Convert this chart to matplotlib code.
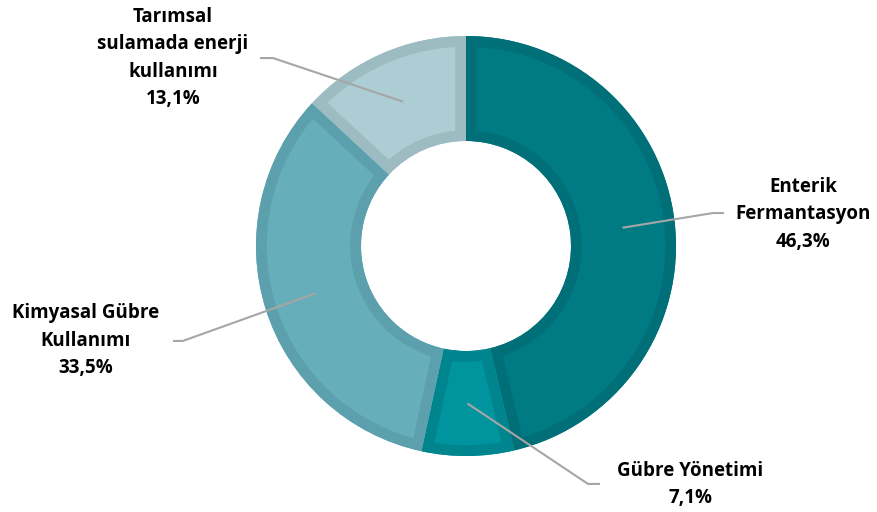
import matplotlib
matplotlib.use("Agg")
import matplotlib.pyplot as plt
from matplotlib.patches import PathPatch
import numpy as np

# data
labels = ["Enterik\nFermantasyon", "Gübre Yönetimi", "Kimyasal Gübre\nKullanımı",
          "Tarımsal\nsulamada enerji\nkullanımı"]
values = [46.3, 7.1, 33.5, 13.1]
pct_text = ["46,3%", "7,1%", "33,5%", "13,1%"]

fills = ["#007B84", "#00949E", "#67AEBB", "#ACCDD4"]
borders = ["#006F77", "#00848D", "#5BA0AC", "#9DBCC1"]

# label placement (knee of leader line, end of leader, text centre), in radius units
knees = [(1.176, 0.157), (0.581, -1.133), (-1.348, -0.452), (-0.919, 0.895)]
ends = [1.229, 0.638, -1.395, -0.981]
text_pos = [(1.605, 0.152), (1.067, -1.136), (-1.81, -0.452), (-1.395, 0.895)]

plt.rcParams['font.family'] = ['Open Sans', 'DejaVu Sans']

fig = plt.figure(figsize=(8.78, 5.12), dpi=100)
ax = fig.add_axes([0, 0, 1, 1])
R = 210.0  # outer radius in pixels
cx, cy = 466.0, 246.0

wedges, _ = ax.pie(values, colors=fills, startangle=90, counterclock=False,
                   radius=1.0, wedgeprops=dict(width=0.5, linewidth=0))

ax.set_xlim(-cx / R, (878 - cx) / R)
ax.set_ylim(-(512 - cy) / R, cy / R)
ax.axis("off")

# inner border: thick outline clipped to the wedge itself
for w, b in zip(wedges, borders):
    outline = PathPatch(w.get_path(), transform=w.get_transform(),
                        facecolor="none", edgecolor=b, linewidth=15.5, zorder=2)
    ax.add_patch(outline)
    outline.set_clip_path(w.get_path(), w.get_transform())

total = sum(values)
cum = 0.0
for i, v in enumerate(values):
    mid = np.deg2rad(90 - (cum + v / 2) / total * 360)
    cum += v
    sx, sy = 0.75 * np.cos(mid), 0.75 * np.sin(mid)
    kx, ky = knees[i]
    ax.plot([sx, kx, ends[i]], [sy, ky, ky], color="#A6A6A6", lw=1.5,
            solid_capstyle="butt", zorder=3)
    tx, ty = text_pos[i]
    ax.text(tx, ty, labels[i] + "\n" + pct_text[i], ha="center", va="center",
            multialignment="center", fontsize=13.5, fontweight="bold",
            color="#000000", linespacing=1.5)

fig.savefig("out.png", dpi=100)
